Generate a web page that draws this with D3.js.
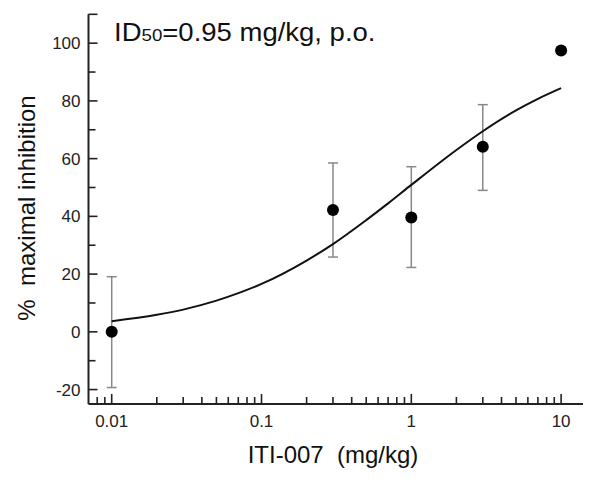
<!DOCTYPE html>
<html><head><meta charset="utf-8">
<script src="https://cdn.jsdelivr.net/npm/d3@7"></script>
<style>body{margin:0;background:#fff}svg{display:block}text{font-family:"Liberation Sans",Arial,sans-serif}</style>
</head><body>
<svg id="c" width="600" height="480"></svg>
<script>
// data
const doses = [0.01, 0.3, 1, 3, 10];
const meanInhibition = [0, 42.2, 39.6, 64.1, 97.5];
const errLow = [-19.3, 25.9, 22.3, 49.0, 96.5];
const errHigh = [19.1, 58.5, 57.2, 78.7, 98.5];
const fitDoses = [0.01, 0.02, 0.03, 0.05, 0.07, 0.1, 0.2, 0.3, 0.5, 0.7, 1, 2, 3, 5, 7, 10];
const fitInhibition = [3.7, 5.9, 7.7, 10.8, 13.4, 16.6, 24.7, 30.4, 38.7, 44.5, 50.9, 63.0, 69.5, 76.7, 80.7, 84.4];
const xTickValues = [0.01, 0.1, 1, 10];
const xTickLabels = ["0.01", "0.1", "1", "10"];
const yTickValues = [-20, 0, 20, 40, 60, 80, 100];
const yMinorValues = [-10, 10, 30, 50, 70, 90];

const svg = d3.select("#c");
const x = d3.scaleLog().domain([0.007, 14]).range([88.5, 583]);
const y = d3.scaleLinear().domain([-25, 110]).range([404, 14.3]);
const axisColor = "#222";

// x minor ticks (inward, upward)
const xMinor = [];
[0.001, 0.01, 0.1, 1].forEach(d => { for (let k = 2; k <= 9; k++) { const v = d * k; if (v >= 0.0075 && v <= 13) xMinor.push(v); } });

const gx = svg.append("g").attr("transform", "translate(0,404)");
gx.append("line").attr("x1", 88.5).attr("x2", 583).attr("stroke", axisColor).attr("stroke-width", 2);
gx.selectAll(".mn").data(xMinor).join("line")
  .attr("x1", d => x(d)).attr("x2", d => x(d)).attr("y1", 0).attr("y2", -7)
  .attr("stroke", axisColor).attr("stroke-width", 1.6);
gx.selectAll(".mj").data(xTickValues).join("line")
  .attr("x1", d => x(d)).attr("x2", d => x(d)).attr("y1", 0).attr("y2", -10)
  .attr("stroke", axisColor).attr("stroke-width", 1.6);
gx.selectAll("text").data(xTickValues).join("text")
  .attr("x", d => x(d)).attr("y", 23).attr("text-anchor", "middle")
  .attr("font-size", 17).attr("fill", "#222").text((d, i) => xTickLabels[i]);

// y axis
const gy = svg.append("g").attr("transform", "translate(88.5,0)");
gy.append("line").attr("y1", y(-25)).attr("y2", y(110)).attr("stroke", axisColor).attr("stroke-width", 2);
gy.selectAll(".mj").data(yTickValues.concat([110])).join("line")
  .attr("y1", d => y(d)).attr("y2", d => y(d)).attr("x1", 0).attr("x2", 9)
  .attr("stroke", axisColor).attr("stroke-width", 1.6);
gy.selectAll(".mn").data(yMinorValues).join("line")
  .attr("y1", d => y(d)).attr("y2", d => y(d)).attr("x1", 0).attr("x2", 7)
  .attr("stroke", axisColor).attr("stroke-width", 1.6);
gy.selectAll("text").data(yTickValues).join("text")
  .attr("x", -8).attr("y", d => y(d)).attr("dy", "0.35em").attr("text-anchor", "end")
  .attr("font-size", 17).attr("fill", "#222").text(d => d);

// error bars
const eb = svg.append("g").attr("stroke", "#888").attr("stroke-width", 1.5);
doses.forEach((d, i) => {
  const cx = x(d);
  eb.append("line").attr("x1", cx).attr("x2", cx).attr("y1", y(errLow[i])).attr("y2", y(errHigh[i]));
  eb.append("line").attr("x1", cx - 5).attr("x2", cx + 5).attr("y1", y(errLow[i])).attr("y2", y(errLow[i]));
  eb.append("line").attr("x1", cx - 5).attr("x2", cx + 5).attr("y1", y(errHigh[i])).attr("y2", y(errHigh[i]));
});

// fitted curve
const line = d3.line().x((d, i) => x(fitDoses[i])).y(d => y(d)).curve(d3.curveMonotoneX);
svg.append("path").datum(fitInhibition).attr("d", line)
  .attr("fill", "none").attr("stroke", "#111").attr("stroke-width", 2);

// points
svg.selectAll(".pt").data(doses).join("circle")
  .attr("cx", d => x(d)).attr("cy", (d, i) => y(meanInhibition[i])).attr("r", 6).attr("fill", "#000");

// title
const t = svg.append("text").attr("transform", "translate(114,41) scale(1.1,1)").attr("font-size", 25).attr("fill", "#111");
t.append("tspan").text("ID");
t.append("tspan").attr("font-size", 17).text("50");
t.append("tspan").text("=0.95 mg/kg, p.o.");

// axis titles
svg.append("text").attr("x", 333).attr("y", 463).attr("text-anchor", "middle")
  .attr("font-size", 24).attr("fill", "#111").style("white-space", "pre").text("ITI-007  (mg/kg)");
svg.append("text").attr("transform", "translate(35,208) rotate(-90)").attr("text-anchor", "middle")
  .attr("font-size", 24).attr("fill", "#111").style("white-space", "pre").text("%  maximal inhibition");
</script>
</body></html>
